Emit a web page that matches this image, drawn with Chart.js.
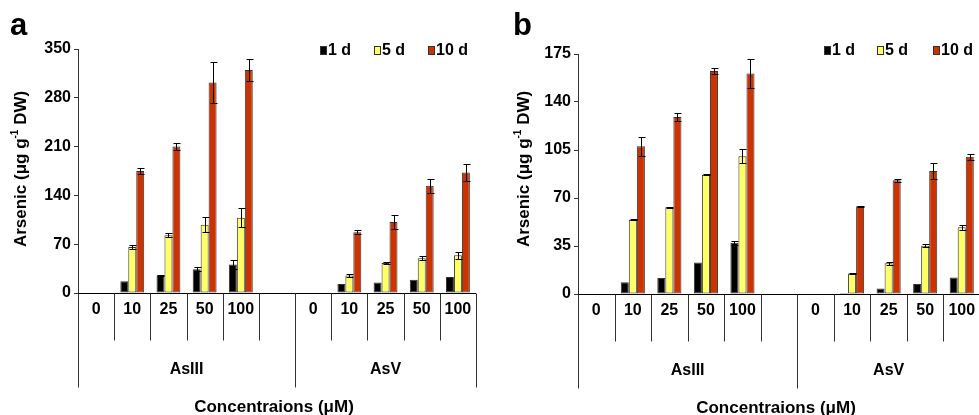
<!DOCTYPE html>
<html>
<head>
<meta charset="utf-8">
<script src="https://cdn.jsdelivr.net/npm/chart.js@4"></script>
<style>
  html, body { margin: 0; padding: 0; background: #fff; overflow: hidden; width: 979px; height: 415px; }
  #ca { position: absolute; left: 0; top: 0; }
  #cb { position: absolute; left: 490px; top: 0; }
</style>
</head>
<body>
<canvas id="ca" width="490" height="415"></canvas>
<canvas id="cb" width="500" height="415"></canvas>
<script>
// categories (blank slot separates the two arsenic forms)
const concentrations = ['0', '10', '25', '50', '100', '', '0', '10', '25', '50', '100'];
const groupLabels = ['AsIII', 'AsV'];
const groupBounds = [0, 6, 11];
const days = ['1 d', '5 d', '10 d'];
const dayColors = ['#000000', '#FFFF66', '#CC3300'];

// panel a
const a1d   = [0, 17, 25, 34, 41, null, 0, 13, 15, 19, 23];
const a5d   = [0, 66, 83, 98, 108, null, 0, 25, 43, 50, 54];
const a10d  = [0, 175, 210, 302, 320, null, 0, 87, 102, 154, 173];
const a1dErr  = [0, 0, 1, 3, 7, null, 0, 0, 0, 0, 0];
const a5dErr  = [0, 3, 3, 11, 14, null, 0, 2, 2, 3, 5];
const a10dErr = [0, 4, 5, 30, 16, null, 0, 3, 9.5, 10, 12];
const aTicks = [0, 70, 140, 210, 280, 350];

// panel b
const b1d   = [0.3, 8.5, 11.7, 23, 37.4, null, 0.3, 0.7, 4, 7.3, 12];
const b5d   = [0.3, 54.2, 63.2, 87, 100.4, null, 0.3, 15, 22.4, 35.2, 48.6];
const b10d  = [0.3, 107.7, 129, 162.6, 160.7, null, 0.3, 64, 83, 89.7, 100];
const b1dErr  = [0, 0, 0, 0, 1.5, null, 0, 0, 0, 0, 0];
const b5dErr  = [0, 0.5, 0.3, 0.3, 5, null, 0, 0.5, 1, 1, 2];
const b10dErr = [0, 7, 2.7, 2, 10.5, null, 0, 0.5, 1, 5.7, 2];
const bTicks = [0, 35, 70, 105, 140, 175];

const FONT = "'Liberation Sans', Arial, Helvetica, sans-serif";

const decorPlugin = {
  id: 'decor',
  afterDatasetsDraw(chart, args, opts) {
    const ctx = chart.ctx;
    const area = chart.chartArea;
    const y = chart.scales.y;
    const n = concentrations.length;
    const w = (area.right - area.left) / n;

    // error bars
    ctx.save();
    ctx.strokeStyle = '#000';
    ctx.lineWidth = 1;
    chart.data.datasets.forEach((ds, di) => {
      const meta = chart.getDatasetMeta(di);
      ds.errors.forEach((e, i) => {
        if (!e || ds.data[i] == null) return;
        const x = Math.round(meta.data[i].x) + 0.5;
        const yt = Math.round(y.getPixelForValue(ds.data[i] + e)) + 0.5;
        const yb = Math.round(y.getPixelForValue(ds.data[i] - e)) + 0.5;
        ctx.beginPath();
        ctx.moveTo(x, yt); ctx.lineTo(x, yb);
        ctx.moveTo(x - 3, yt); ctx.lineTo(x + 4, yt);
        ctx.moveTo(x - 3, yb); ctx.lineTo(x + 4, yb);
        ctx.stroke();
      });
    });

    // x axis line and category dividers
    const b = Math.round(area.bottom) + 0.5;
    ctx.strokeStyle = '#000';
    ctx.beginPath();
    ctx.moveTo(area.left, b); ctx.lineTo(area.right, b);
    ctx.stroke();
    ctx.strokeStyle = '#333';
    for (let i = 0; i <= n; i++) {
      const x = Math.round(area.left + i * w) + 0.5;
      const len = groupBounds.includes(i) ? 94 : 47;
      ctx.beginPath();
      ctx.moveTo(x, b); ctx.lineTo(x, b + len);
      ctx.stroke();
    }

    ctx.fillStyle = '#000';
    ctx.font = 'bold 16px ' + FONT;
    ctx.textAlign = 'center';
    ctx.textBaseline = 'middle';
    concentrations.forEach((c, i) => {
      ctx.fillText(c, area.left + (i + 0.5) * w, b + 16);
    });
    groupLabels.forEach((g, k) => {
      const cx = area.left + (groupBounds[k] + groupBounds[k + 1]) / 2 * w;
      ctx.fillText(g, cx, b + 76);
    });
    ctx.font = 'bold 17px ' + FONT;
    ctx.fillText('Concentraions (\u03bcM)', (area.left + area.right) / 2 - 3, b + 114);

    // y title with superscript
    ctx.save();
    ctx.translate(opts.yTitleX, opts.yTitleY);
    ctx.rotate(-Math.PI / 2);
    const p1 = 'Arsenic (\u03bcg g', p2 = '-1', p3 = ' DW)';
    ctx.font = 'bold 17px ' + FONT;
    const w1 = ctx.measureText(p1).width, w3 = ctx.measureText(p3).width;
    ctx.font = 'bold 10px ' + FONT;
    const w2 = ctx.measureText(p2).width;
    let x0 = -(w1 + w2 + w3) / 2;
    ctx.textAlign = 'left';
    ctx.font = 'bold 17px ' + FONT;
    ctx.fillText(p1, x0, 0);
    ctx.font = 'bold 10px ' + FONT;
    ctx.fillText(p2, x0 + w1, -6);
    ctx.font = 'bold 17px ' + FONT;
    ctx.fillText(p3, x0 + w1 + w2, 0);
    ctx.restore();

    // panel letter
    ctx.font = 'bold 31px ' + FONT;
    ctx.textAlign = 'left';
    ctx.textBaseline = 'alphabetic';
    ctx.fillText(opts.letter, opts.letterX, 35);

    // legend
    ctx.font = 'bold 16px ' + FONT;
    ctx.textBaseline = 'middle';
    chart.data.datasets.forEach((ds, di) => {
      const lx = opts.legendX[di];
      ctx.fillStyle = ds.backgroundColor;
      ctx.fillRect(lx, 46, 6, 8);
      ctx.strokeStyle = '#333';
      ctx.strokeRect(lx + 0.5, 46.5, 6, 8);
      ctx.fillStyle = '#000';
      ctx.fillText(ds.label, lx + 8, 51);
    });
    ctx.restore();
  }
};

function makeChart(id, series, errors, ticks, o) {
  return new Chart(document.getElementById(id), {
    type: 'bar',
    data: {
      labels: concentrations,
      datasets: days.map((d, i) => ({
        label: d,
        data: series[i],
        errors: errors[i],
        backgroundColor: dayColors[i],
        borderColor: '#333',
        borderWidth: 1,
        borderSkipped: false
      }))
    },
    options: {
      responsive: false,
      animation: false,
      events: [],
      layout: { padding: o.padding },
      datasets: { bar: { categoryPercentage: 0.66, barPercentage: 1.0 } },
      scales: {
        x: { display: false },
        y: {
          min: 0,
          max: ticks[ticks.length - 1],
          afterBuildTicks: s => { s.ticks = ticks.map(v => ({ value: v })); },
          ticks: { color: '#000', padding: 3, font: { family: FONT, size: 16, weight: 'bold' } },
          grid: { drawOnChartArea: false, tickLength: 4, color: '#333' },
          border: { color: '#333', width: 1 },
          afterFit: s => { s.width = o.axisWidth; }
        }
      },
      plugins: {
        legend: { display: false },
        tooltip: { enabled: false },
        decor: o.decor
      }
    },
    plugins: [decorPlugin]
  });
}

makeChart('ca', [a1d, a5d, a10d], [a1dErr, a5dErr, a10dErr], aTicks, {
  axisWidth: 78,
  padding: { left: 0, right: 14, top: 49, bottom: 122 },
  decor: { letter: 'a', letterX: 10, yTitleX: 21, yTitleY: 169, legendX: [320, 374, 428] }
});

makeChart('cb', [b1d, b5d, b10d], [b1dErr, b5dErr, b10dErr], bTicks, {
  axisWidth: 88,
  padding: { left: 0, right: 10, top: 54, bottom: 121 },
  decor: { letter: 'b', letterX: 23, yTitleX: 34, yTitleY: 169, legendX: [334, 387, 443] }
});
</script>
</body>
</html>
